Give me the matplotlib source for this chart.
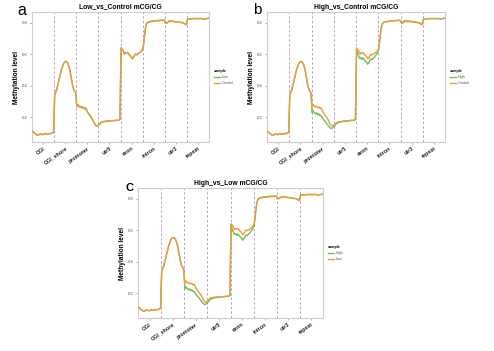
import matplotlib
matplotlib.use("Agg")
import matplotlib.pyplot as plt
import numpy as np

plt.rcParams["font.family"] = ["Liberation Sans", "DejaVu Sans"]

regions = ["CGI", "CGI_shore", "promoter", "utr5", "exon", "intron", "utr3", "repeat"]
bins_per_region = 20

control = [
    # CGI
    0.110, 0.105, 0.098, 0.092, 0.088, 0.086, 0.090, 0.095, 0.092, 0.089,
    0.094, 0.097, 0.093, 0.096, 0.094, 0.097, 0.095, 0.098, 0.100, 0.105,
    # CGI_shore
    0.340, 0.360, 0.380, 0.410, 0.440, 0.470, 0.500, 0.520, 0.540, 0.550,
    0.555, 0.550, 0.540, 0.520, 0.490, 0.450, 0.410, 0.380, 0.365, 0.355,
    # promoter
    0.270, 0.280, 0.270, 0.265, 0.270, 0.260, 0.265, 0.255, 0.260, 0.245,
    0.230, 0.220, 0.210, 0.200, 0.190, 0.175, 0.160, 0.150, 0.145, 0.148,
    # utr5
    0.150, 0.158, 0.165, 0.168, 0.170, 0.172, 0.172, 0.174, 0.175, 0.175,
    0.176, 0.177, 0.178, 0.178, 0.179, 0.180, 0.180, 0.181, 0.182, 0.185,
    # exon
    0.640, 0.630, 0.620, 0.600, 0.610, 0.605, 0.610, 0.600, 0.590, 0.585,
    0.570, 0.575, 0.590, 0.600, 0.595, 0.600, 0.605, 0.610, 0.615, 0.625,
    # intron
    0.640, 0.700, 0.760, 0.790, 0.800, 0.802, 0.804, 0.806, 0.807, 0.808,
    0.809, 0.810, 0.810, 0.811, 0.812, 0.812, 0.813, 0.813, 0.814, 0.815,
    # utr3
    0.800, 0.795, 0.800, 0.805, 0.810, 0.808, 0.806, 0.807, 0.806, 0.805,
    0.805, 0.804, 0.803, 0.802, 0.800, 0.800, 0.798, 0.795, 0.790, 0.785,
    # repeat
    0.820, 0.822, 0.823, 0.822, 0.824, 0.825, 0.824, 0.825, 0.826, 0.825,
    0.824, 0.825, 0.826, 0.825, 0.824, 0.823, 0.822, 0.824, 0.826, 0.828,
]

low = [
    # CGI
    0.110, 0.104, 0.097, 0.091, 0.087, 0.085, 0.089, 0.094, 0.091, 0.088,
    0.093, 0.096, 0.092, 0.095, 0.093, 0.096, 0.094, 0.097, 0.099, 0.104,
    # CGI_shore
    0.340, 0.360, 0.380, 0.410, 0.440, 0.470, 0.500, 0.520, 0.540, 0.550,
    0.554, 0.550, 0.540, 0.520, 0.490, 0.450, 0.410, 0.380, 0.364, 0.354,
    # promoter
    0.268, 0.277, 0.267, 0.262, 0.267, 0.257, 0.262, 0.252, 0.257, 0.242,
    0.228, 0.218, 0.208, 0.198, 0.188, 0.173, 0.158, 0.148, 0.143, 0.147,
    # utr5
    0.152, 0.161, 0.168, 0.171, 0.173, 0.174, 0.174, 0.176, 0.176, 0.176,
    0.177, 0.178, 0.178, 0.178, 0.179, 0.180, 0.180, 0.181, 0.182, 0.185,
    # exon
    0.640, 0.632, 0.621, 0.602, 0.611, 0.606, 0.611, 0.601, 0.591, 0.586,
    0.572, 0.577, 0.591, 0.601, 0.596, 0.601, 0.606, 0.611, 0.616, 0.626,
    # intron
    0.642, 0.703, 0.763, 0.793, 0.803, 0.805, 0.807, 0.809, 0.810, 0.811,
    0.812, 0.813, 0.813, 0.814, 0.815, 0.815, 0.816, 0.816, 0.816, 0.817,
    # utr3
    0.802, 0.798, 0.803, 0.808, 0.812, 0.811, 0.809, 0.809, 0.808, 0.807,
    0.806, 0.805, 0.804, 0.803, 0.801, 0.801, 0.799, 0.796, 0.791, 0.786,
    # repeat
    0.821, 0.823, 0.824, 0.823, 0.825, 0.826, 0.825, 0.826, 0.827, 0.826,
    0.825, 0.826, 0.827, 0.826, 0.825, 0.824, 0.823, 0.825, 0.827, 0.829,
]

high = [
    # CGI
    0.110, 0.104, 0.097, 0.091, 0.087, 0.085, 0.089, 0.094, 0.091, 0.088,
    0.093, 0.096, 0.092, 0.095, 0.093, 0.096, 0.094, 0.097, 0.099, 0.104,
    # CGI_shore
    0.340, 0.360, 0.380, 0.410, 0.440, 0.470, 0.500, 0.520, 0.540, 0.550,
    0.554, 0.550, 0.540, 0.520, 0.490, 0.450, 0.410, 0.380, 0.364, 0.354,
    # promoter
    0.230, 0.240, 0.228, 0.222, 0.228, 0.215, 0.222, 0.210, 0.212, 0.200,
    0.190, 0.180, 0.172, 0.162, 0.152, 0.142, 0.134, 0.128, 0.130, 0.138,
    # utr5
    0.142, 0.152, 0.160, 0.164, 0.167, 0.169, 0.170, 0.172, 0.173, 0.174,
    0.175, 0.176, 0.176, 0.177, 0.178, 0.179, 0.179, 0.180, 0.181, 0.184,
    # exon
    0.630, 0.605, 0.585, 0.572, 0.578, 0.566, 0.576, 0.566, 0.556, 0.550,
    0.536, 0.545, 0.560, 0.570, 0.565, 0.575, 0.580, 0.590, 0.600, 0.612,
    # intron
    0.630, 0.695, 0.758, 0.790, 0.801, 0.803, 0.805, 0.807, 0.808, 0.809,
    0.810, 0.811, 0.811, 0.812, 0.813, 0.813, 0.814, 0.814, 0.815, 0.816,
    # utr3
    0.803, 0.800, 0.805, 0.809, 0.813, 0.812, 0.810, 0.810, 0.809, 0.808,
    0.807, 0.806, 0.805, 0.804, 0.802, 0.802, 0.800, 0.797, 0.792, 0.787,
    # repeat
    0.821, 0.823, 0.824, 0.823, 0.825, 0.826, 0.825, 0.826, 0.827, 0.826,
    0.825, 0.826, 0.827, 0.826, 0.825, 0.824, 0.823, 0.825, 0.827, 0.829,
]

panels = [
    ("a", "Low_vs_Control mCG/CG", ("Low", low), ("Control", control)),
    ("b", "High_vs_Control mCG/CG", ("High", high), ("Control", control)),
    ("C", "High_vs_Low mCG/CG", ("High", high), ("Low", low)),
]

GREEN = "#6DBE5E"
ORANGE = "#EE9B3A"
DASH = "#B98BC9"

fig = plt.figure(figsize=(4.94, 3.51), dpi=100)
W, H = 494, 351
# axes boxes in pixels: left, right, top, bottom
boxes = [(32, 209, 12, 142), (267, 445, 12, 142), (138, 323, 188, 318)]
# panel letter: x, baseline y (pixels), font size, weight
letters = [(17, 15, 11.5, "normal"), (253, 14, 11, "normal"), (125, 191, 8, "bold")]

n = len(control)
x = (np.arange(n) + 0.5) / bins_per_region

for (letter, title, s1, s2), (l, r, t, b), (lx, ly, lfs, lfw) in zip(panels, boxes, letters):
    ax = fig.add_axes([l / W, 1 - b / H, (r - l) / W, (b - t) / H])
    for k in range(1, len(regions)):
        ax.axvline(k, color=DASH, linestyle=(0, (3, 2.5)), linewidth=0.6, zorder=1)
    ax.plot(x, s1[1], color=GREEN, linewidth=1.0, label=s1[0], zorder=2)
    ax.plot(x, s2[1], color=ORANGE, linewidth=1.0, label=s2[0], zorder=3)
    ax.set_xlim(0, len(regions))
    ax.set_ylim(0.0425, 0.8675)
    ax.set_xticks(np.arange(len(regions)) + 0.5)
    ax.set_xticklabels(regions, rotation=35, ha="right", va="top", rotation_mode="anchor",
                       fontsize=3.9, fontweight="bold", color="#222222")
    ax.set_yticks([0.2, 0.4, 0.6, 0.8])
    ax.set_yticklabels(["0.2", "0.4", "0.6", "0.8"], fontsize=3.1, color="#555555")
    ax.tick_params(axis="both", length=1.6, width=0.5, color="#888888", pad=1.2)
    for sp in ax.spines.values():
        sp.set_color("#CCCCCC")
        sp.set_linewidth(0.8)
    ax.set_ylabel("Methylation level", fontsize=4.7, fontweight="bold", labelpad=1.5)
    ax.set_title(title, fontsize=4.9, fontweight="bold", pad=2.5)
    fig.text(lx / W, 1 - ly / H, letter, fontsize=lfs, fontweight=lfw,
             ha="left", va="baseline")
    leg = ax.legend(title="sample", loc="center left", bbox_to_anchor=(1.0, 0.5),
                    frameon=False, fontsize=2.7, title_fontsize=2.7,
                    handlelength=1.8, handletextpad=0.5, labelspacing=0.6,
                    borderaxespad=0.8)
    leg.get_title().set_fontweight("bold")
    leg._legend_box.align = "left"
    for txt in leg.get_texts():
        txt.set_color("#555555")

fig.savefig("out.png", dpi=100)
